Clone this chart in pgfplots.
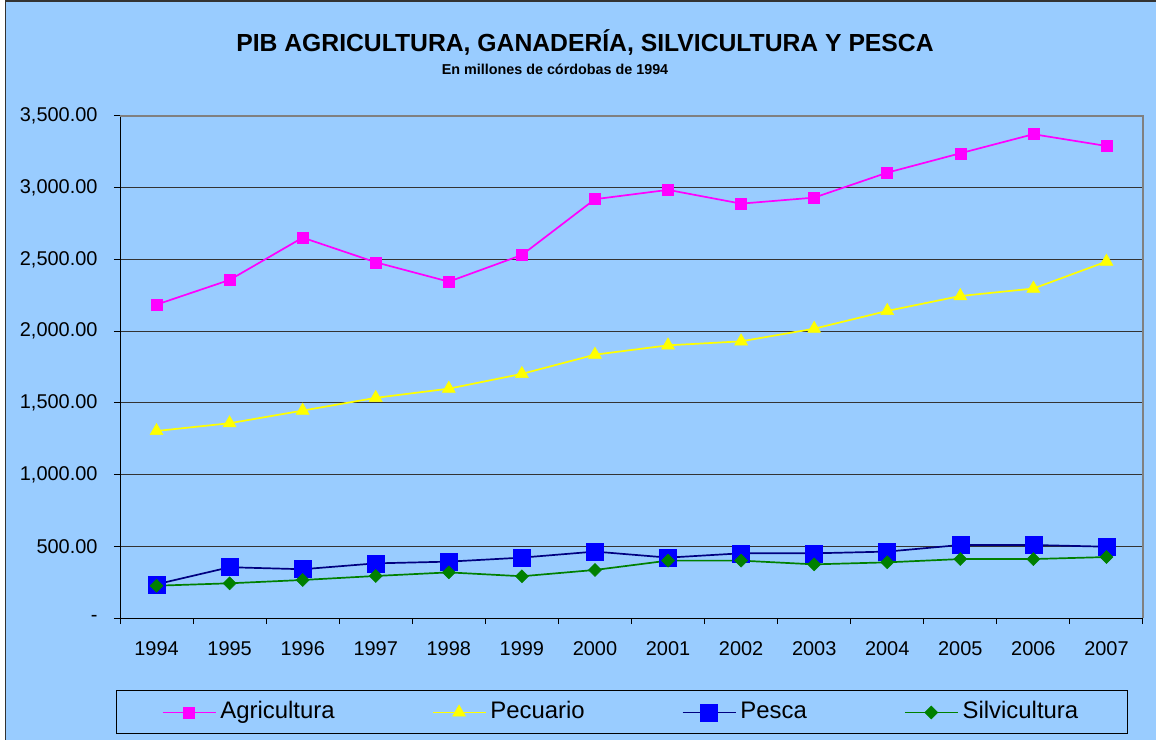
\documentclass[border=0pt]{standalone}
\usepackage{fontspec}
\setmainfont{Liberation Sans}
\usepackage{pgfplots}
\pgfplotsset{compat=1.18}
\definecolor{bgblue}{HTML}{99CCFF}
\definecolor{agri}{HTML}{FF00FF}
\definecolor{pec}{HTML}{FFFF00}
\definecolor{pescaline}{HTML}{000080}
\definecolor{pescamark}{HTML}{0000FF}
\definecolor{silv}{HTML}{008000}
\begin{document}
\begin{tikzpicture}
\useasboundingbox (0,0) rectangle (1156bp,740bp);
\fill[white] (0,0) rectangle (1156bp,740bp);
\fill[bgblue] (5bp,0) rectangle (1156bp,739bp);
\draw[line width=1.5bp, color=black!80] (5.5bp,0) -- (5.5bp,739bp) -- (1156bp,739bp);
\node[font=\fontsize{24.8}{29}\selectfont\bfseries, anchor=base] at (585bp,688bp) {PIB AGRICULTURA, GANADERÍA, SILVICULTURA Y PESCA};
\node[font=\fontsize{14.4}{17}\selectfont\bfseries, anchor=base] at (555bp,665bp) {En millones de córdobas de 1994};
\begin{axis}[
  at={(120bp,122bp)}, anchor=south west, scale only axis,
  width=1023bp, height=502bp,
  xmin=-0.5, xmax=13.5, ymin=0, ymax=3500,
  axis x line*=bottom, axis y line*=left,
  axis line style={black, line width=1bp},
  tick align=outside,
  xtick={0,1,2,3,4,5,6,7,8,9,10,11,12,13},
  xticklabels={1994,1995,1996,1997,1998,1999,2000,2001,2002,2003,2004,2005,2006,2007},
  major x tick style={draw=none},
  minor xtick={-0.5,0.5,1.5,2.5,3.5,4.5,5.5,6.5,7.5,8.5,9.5,10.5,11.5,12.5,13.5},
  minor tick length=6bp, major tick length=6bp,
  minor x tick style={black, line width=1bp},
  major y tick style={black, line width=1bp},
  ytick={0,500,1000,1500,2000,2500,3000,3500},
  yticklabels={{-},{500.00},{1,000.00},{1,500.00},{2,000.00},{2,500.00},{3,000.00},{3,500.00}},
  ymajorgrids, major grid style={black!80, line width=1bp},
  ticklabel style={font=\fontsize{20}{24}\selectfont},
  xticklabel style={yshift=-14bp},
  yticklabel style={xshift=-13bp},
  clip=false,
  legend columns=4,
  legend image code/.code={\draw[mark repeat=2,mark phase=2,#1] plot coordinates {(0bp,0bp) (26.5bp,0bp) (53bp,0bp)};},
  legend style={at={(0.4907,-0.1882)}, anchor=center, draw=black, line width=1bp, fill=none,
    font=\fontsize{24}{28}\selectfont, inner xsep=45bp, inner ysep=8.5bp,
    nodes={inner xsep=4bp, inner ysep=2bp, text height=17bp, text depth=5bp},
    /tikz/every even column/.append style={column sep=93bp}},
  legend cell align=left,
]
\draw[color=black!50, line width=1.5bp] (rel axis cs:0,1) -- (rel axis cs:1,1) -- (rel axis cs:1,0);
\addplot[color=agri, line width=1.7bp, mark=square*, mark size=5.5bp, mark options={fill=agri, draw=agri, line width=0.5bp}]
  coordinates {(0,2185) (1,2357) (2,2652) (3,2480) (4,2345) (5,2531) (6,2920) (7,2985) (8,2889) (9,2931) (10,3105) (11,3240) (12,3373) (13,3291)};
\addlegendentry{Agricultura}
\addplot[color=pec, line width=1.7bp, mark=triangle*, mark size=7.5bp, mark options={fill=pec, draw=pec, line width=0.5bp}]
  coordinates {(0,1304) (1,1358) (2,1446) (3,1535) (4,1599) (5,1702) (6,1836) (7,1901) (8,1929) (9,2017) (10,2141) (11,2245) (12,2297) (13,2485)};
\addlegendentry{Pecuario}
\addplot[color=pescaline, line width=1.7bp, mark=square*, mark size=8.5bp, mark options={fill=pescamark, draw=pescamark, line width=0.5bp}]
  coordinates {(0,235) (1,354) (2,340) (3,381) (4,393) (5,421) (6,463) (7,421) (8,451) (9,451) (10,463) (11,509) (12,509) (13,497)};
\addlegendentry{Pesca}
\addplot[color=silv, line width=1.7bp, mark=square*, mark size=4.6bp, mark options={rotate=45, fill=silv, draw=silv, line width=0.5bp}]
  coordinates {(0,225) (1,242) (2,265) (3,293) (4,318) (5,291) (6,335) (7,400) (8,400) (9,374) (10,388) (11,411) (12,411) (13,425)};
\addlegendentry{Silvicultura}
\end{axis}
\end{tikzpicture}
\end{document}
